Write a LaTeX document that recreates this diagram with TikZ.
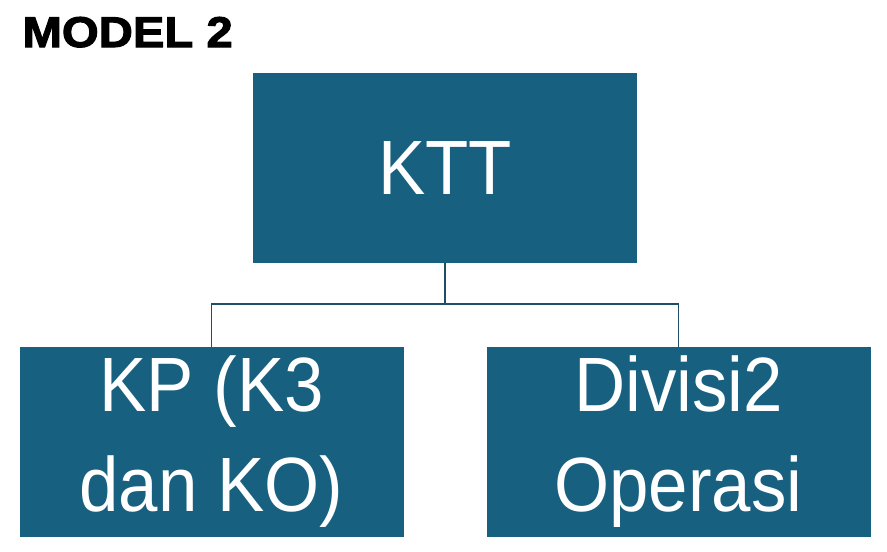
\documentclass[tikz,border=0pt]{standalone}
\usepackage{fontspec}
\setmainfont{Liberation Sans}
\newfontfamily\boxfont[FakeStretch=0.92]{Liberation Sans}
\newfontfamily\titlefont[FakeBold=2.5,FakeStretch=1.1]{Liberation Sans Bold}
\definecolor{boxblue}{HTML}{17607F}
\definecolor{linkblue}{HTML}{1F4E69}
\begin{document}
\begin{tikzpicture}
[x=1pt,y=-1pt,
  unitbox/.style={fill=boxblue,text=white,minimum width=384pt,minimum height=190pt,
    inner sep=0pt,align=center,font=\boxfont\fontsize{77}{100}\selectfont},%
  linkdecorate/.style={-,draw=linkblue,line width=1.6pt}]
\useasboundingbox (0,0) rectangle (887,552);
%% title
\node (title) [anchor=base west,font=\titlefont\fontsize{43}{48}\selectfont] at (19,47) {MODEL 2};
%% boxes
\foreach \nodename/\txt/\x/\y in {ktt/KTT/445/168, kp/{KP (K3\\dan KO)}/211.5/442,
  div/{Divisi2\\Operasi}/678.5/442} {
  \node (\nodename) at (\x,\y) [unitbox] {\txt};
}
%% connectors
\foreach \endnode in {kp, div} {
  \draw[linkdecorate] (ktt.south) -- ++(0,41) -| (\endnode.north);
}
\end{tikzpicture}
\end{document}
